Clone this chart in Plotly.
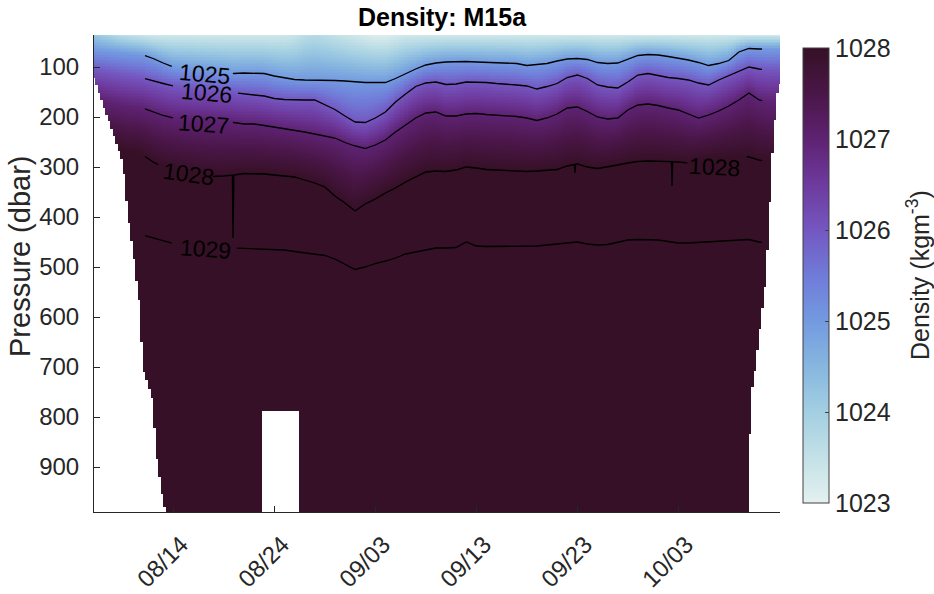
import numpy as np
import pandas as pd
import plotly.graph_objects as go

# ---------------- data ----------------
START = pd.Timestamp("2021-08-06")
DATES = pd.date_range("2021-08-06", "2021-10-13", freq="D")   # 69 daily profiles

# surface density (kg m-3) at the top of each daily profile
SURF_RHO = [1024.2, 1024.0, 1023.8, 1023.6, 1023.5,
            1023.4, 1023.3, 1023.3, 1023.3, 1023.3, 1023.3, 1023.3, 1023.3, 1023.3, 1023.3,
            1023.3, 1023.3, 1023.3, 1023.3, 1023.3, 1023.4, 1023.6, 1023.7, 1023.6, 1023.5, 1023.4,
            1023.3, 1023.2, 1023.1, 1023.1, 1023.2, 1023.3, 1023.3, 1023.3, 1023.3, 1023.3,
            1023.3, 1023.3, 1023.3, 1023.3, 1023.3, 1023.3, 1023.3, 1023.3, 1023.3, 1023.3,
            1023.3, 1023.3, 1023.3, 1023.3, 1023.3, 1023.3, 1023.3, 1023.3, 1023.3, 1023.3,
            1023.3, 1023.3, 1023.3, 1023.3, 1023.3, 1023.3, 1023.3, 1023.3, 1023.3, 1023.3,
            1023.3, 1023.3, 1023.3]

# pressure (dbar) of each isopycnal, one value per day
P1025 = [66, 68, 70, 72, 74,
         76, 83, 92, 100, 102, 104, 106, 108, 110, 113, 112, 112, 113, 118, 122, 125, 126, 126, 126, 127, 128,
         130, 131, 131, 131, 123, 113, 104, 96, 92, 90, 89, 89, 90, 91, 92, 92, 93, 97, 95, 93,
         88, 84, 83, 85, 91, 93, 92, 84, 77, 75,
         76, 79, 82, 86, 91, 97, 93, 87, 70, 63, 64, 64, 64]
P1026 = [105, 108, 112, 116, 119,
         122, 128, 133, 138, 140, 142, 144, 146, 148, 151, 154, 156, 158, 163, 165, 166, 166, 166, 176, 185, 198,
         210, 211, 202, 190, 170, 154, 139, 132, 130, 135, 134, 130, 130, 131, 133, 134, 136, 138, 144, 139,
         133, 121, 116, 123, 136, 140, 142, 130, 116, 113,
         117, 121, 123, 126, 132, 136, 126, 117, 108, 100, 104, 106, 106]
P1027 = [160, 166, 172, 176, 180,
         182, 190, 197, 202, 204, 206, 207, 208, 210, 211, 214, 214, 217, 220, 223, 226, 230, 234, 238, 242, 251,
         258, 263, 256, 246, 230, 216, 202, 192, 190, 198, 198, 194, 193, 195, 196, 197, 199, 202, 207, 202,
         194, 182, 180, 189, 200, 204, 202, 186, 176, 174,
         177, 182, 186, 194, 202, 196, 188, 178, 166, 152, 166, 170, 170]
P1028 = [250, 256, 262, 268, 272,
         276, 290, 300, 304, 308, 312, 316, 319, 318, 316, 313, 313, 314, 316, 318, 320, 326, 332, 340, 358, 372,
         388, 374, 364, 352, 342, 330, 320, 310, 308, 309, 306, 300, 302, 305, 306, 307, 308, 309, 308, 306,
         305, 298, 294, 300, 303, 300, 296, 292, 289, 288,
         288, 289, 290, 292, 286, 284, 282, 281, 280, 280, 286, 290, 290]
P1029 = [420, 424, 428, 432, 434,
         436, 442, 448, 453, 455, 457, 458, 460, 461, 462, 463, 463, 464, 465, 466, 469, 472, 474, 477, 484, 494,
         505, 500, 493, 488, 482, 474, 470, 465, 462, 462, 461, 450, 458, 459, 459, 459, 459, 459, 458, 456,
         454, 451, 450, 454, 456, 455, 450, 446, 445, 445,
         446, 449, 452, 452, 451, 450, 449, 448, 446, 445, 450, 452, 452]
DEEP_RHO = 1031.5          # density at 1000 dbar
ISO_LEVELS = [1025, 1026, 1027, 1028, 1029]

# deepest sample of the glider profiles (edges of the sampled region)
MAXP_TIME = ["2021-08-06 03:36", "2021-08-06 17:45", "2021-08-07 08:10", "2021-08-07 22:20",
             "2021-08-09 00:30", "2021-08-09 12:15", "2021-08-10 00:15", "2021-08-10 17:00",
             "2021-08-11 00:00", "2021-08-11 21:20", "2021-08-12 09:20", "2021-08-12 23:30",
             "2021-08-13 09:10",
             "2021-08-22 16:00", "2021-08-22 16:15", "2021-08-26 11:15", "2021-08-26 11:30",
             "2021-10-09 21:30", "2021-10-10 00:00", "2021-10-10 07:10", "2021-10-10 12:00",
             "2021-10-11 16:50", "2021-10-12 00:00", "2021-10-12 07:10", "2021-10-12 19:10",
             "2021-10-13 04:50"]
MAXP_VAL = [120, 160, 194, 226,
            292, 396, 466, 580,
            700, 760, 886, 966,
            1000,
            1000, 788, 788, 1000,
            1000, 892, 750, 726,
            526, 426, 293, 159,
            126]

# narrow spikes of the 1028 contour
SPIKE_1028_TIME = ["2021-08-19 21:50", "2021-09-22 18:30", "2021-10-02 09:10"]
SPIKE_1028_P = [442, 312, 338]

# contour labels
LABEL_LEVEL = [1025, 1026, 1027, 1028, 1029, 1028]
LABEL_TIME = ["2021-08-17 01:00", "2021-08-17 08:00", "2021-08-16 23:00",
              "2021-08-15 11:00", "2021-08-17 03:30", "2021-10-06 13:00"]
LABEL_P = [114, 152, 214, 314, 464, 300]
LABEL_ANGLE = [5, 5, 4, 8, 4, 3]
LABEL_GAP = [("2021-08-13 20:24", "2021-08-19 21:36"), ("2021-08-13 23:16", "2021-08-20 09:36"),
             ("2021-08-13 23:16", "2021-08-19 21:36"), ("2021-08-12 12:00", "2021-08-17 21:36"),
             ("2021-08-13 20:24", "2021-08-20 07:12"), ("2021-10-03 21:36", "2021-10-09 19:12")]
LINE_START, LINE_END = "2021-08-11 05:00", "2021-10-11 07:00"

TICK_DATES = ["2021-08-14", "2021-08-24", "2021-09-03", "2021-09-13", "2021-09-23", "2021-10-03"]
TICK_TEXT = ["08/14", "08/24", "09/03", "09/13", "09/23", "10/03"]
P_TICKS = [100, 200, 300, 400, 500, 600, 700, 800, 900]
CB_TICKS = [1023, 1024, 1025, 1026, 1027, 1028]

# cmocean "dense"-like colour map
DENSE = [[0.0, "#e4f0f0"], [0.1, "#c3e1e7"], [0.2, "#a3cfe2"], [0.3, "#87b6df"],
         [0.4, "#739ae0"], [0.5, "#707bd8"], [0.6, "#7457c0"], [0.7, "#6e3a9e"],
         [0.8, "#5e2272"], [0.9, "#4a1648"], [1.0, "#361026"]]

# ---------------- build gridded field ----------------
def days(ts):
    return (pd.to_datetime(ts) - START) / pd.Timedelta(days=1)

day_idx = np.asarray(days(DATES), dtype=float)
t_fine = np.arange(0.125, 68.2, 0.25)
p_grid = np.arange(36, 992, 3.0)
maxp = np.interp(t_fine, np.asarray(days(MAXP_TIME), dtype=float), MAXP_VAL)
iso = [np.interp(t_fine, day_idx, arr) for arr in (P1025, P1026, P1027, P1028, P1029)]
surf = np.interp(t_fine, day_idx, SURF_RHO)

Z = np.full((len(p_grid), len(t_fine)), np.nan)
for j in range(len(t_fine)):
    kp = [36.0] + [a[j] for a in iso] + [1000.0]
    kr = [surf[j]] + ISO_LEVELS + [DEEP_RHO]
    col = np.interp(p_grid, kp, kr)
    col[p_grid > maxp[j]] = np.nan
    Z[:, j] = col

x_fine = START + pd.to_timedelta(t_fine, unit="D")

AX = "#262626"
FONT = "Liberation Sans, Arial, sans-serif"

fig = go.Figure()
fig.add_trace(go.Heatmap(
    x=x_fine, y=p_grid, z=Z, zmin=1023, zmax=1028, colorscale=DENSE,
    hoverinfo="skip",
    colorbar=dict(x=(793 - 94) / 686, xanchor="left", y=1 - 3 / 477, yanchor="top",
                  lenmode="pixels", len=475, thickness=26, outlinewidth=1,
                  outlinecolor="#404040", tickvals=CB_TICKS, ticks="inside", ticklen=4,
                  tickcolor="#404040", tickfont=dict(size=25, color=AX, family=FONT))))

# ---------------- contour lines ----------------
series = dict(zip(ISO_LEVELS, (P1025, P1026, P1027, P1028, P1029)))
l0, l1 = days(LINE_START), days(LINE_END)
for lev in ISO_LEVELS:
    vals = np.asarray(series[lev], dtype=float)
    pts = [(d, v) for d, v in zip(day_idx, vals) if l0 <= d <= l1]
    pts += [(l0, np.interp(l0, day_idx, vals)), (l1, np.interp(l1, day_idx, vals))]
    if lev == 1028:
        for st, sp in zip(SPIKE_1028_TIME, SPIKE_1028_P):
            sd = days(st)
            pts += [(sd - 0.06, np.interp(sd - 0.06, day_idx, vals)), (sd, sp),
                    (sd + 0.06, np.interp(sd + 0.06, day_idx, vals))]
    for k, lv in enumerate(LABEL_LEVEL):
        if lv != lev:
            continue
        g0, g1 = days(LABEL_GAP[k][0]), days(LABEL_GAP[k][1])
        pts = [(d, v) for d, v in pts if not (g0 < d < g1)]
        pts += [(g0, np.interp(g0, day_idx, vals)), ((g0 + g1) / 2, None),
                (g1, np.interp(g1, day_idx, vals))]
    pts.sort(key=lambda q: q[0])
    fig.add_trace(go.Scatter(
        x=START + pd.to_timedelta([q[0] for q in pts], unit="D"),
        y=[q[1] for q in pts], mode="lines", connectgaps=False,
        line=dict(color="black", width=1.3), hoverinfo="skip", showlegend=False))

for lev, lt, lp, ang in zip(LABEL_LEVEL, LABEL_TIME, LABEL_P, LABEL_ANGLE):
    fig.add_annotation(x=pd.Timestamp(lt), y=lp, text=str(lev), showarrow=False,
                       textangle=ang, font=dict(size=23, color="black", family=FONT))

fig.update_xaxes(type="date", range=["2021-08-06 03:36", "2021-10-13 01:40"],
                 tickvals=pd.to_datetime(TICK_DATES), ticktext=TICK_TEXT, tickangle=-45,
                 ticks="inside", ticklen=6, tickcolor=AX, showline=True, linecolor=AX,
                 linewidth=1, showgrid=False, zeroline=False, automargin=False,
                 ticklabelstandoff=8, ticklabelshift=8,
                 tickfont=dict(size=24, color=AX, family=FONT))
fig.update_yaxes(range=[990, 36], tickvals=P_TICKS, ticks="inside", ticklen=6, tickcolor=AX,
                 showline=True, linecolor=AX, linewidth=1, showgrid=False, zeroline=False,
                 ticklabelstandoff=9, automargin=False,
                 tickfont=dict(size=24, color=AX, family=FONT))

fig.add_annotation(xref="paper", yref="paper", x=(20 - 94) / 686, y=(512 - 257) / 477,
                   xanchor="center", yanchor="middle",
                   text="Pressure (dbar)", textangle=-90, showarrow=False,
                   font=dict(size=29, color=AX, family=FONT))
fig.add_annotation(xref="paper", yref="paper", x=(918 - 94) / 686, y=(512 - 275) / 477,
                   xanchor="center", yanchor="middle",
                   text="Density (kgm<sup>-3</sup>)", textangle=-90, showarrow=False,
                   font=dict(size=25, color=AX, family=FONT))

fig.update_layout(
    width=934, height=594, margin=dict(l=94, r=154, t=35, b=82),
    plot_bgcolor="white", paper_bgcolor="white",
    font=dict(family=FONT, color=AX),
    title=dict(text="<b>Density: M15a</b>", x=442 / 934, xanchor="center",
               y=1 - 17 / 594, yanchor="middle", font=dict(size=25, color="black", family=FONT)),
    showlegend=False)

fig.write_html("out.html")
